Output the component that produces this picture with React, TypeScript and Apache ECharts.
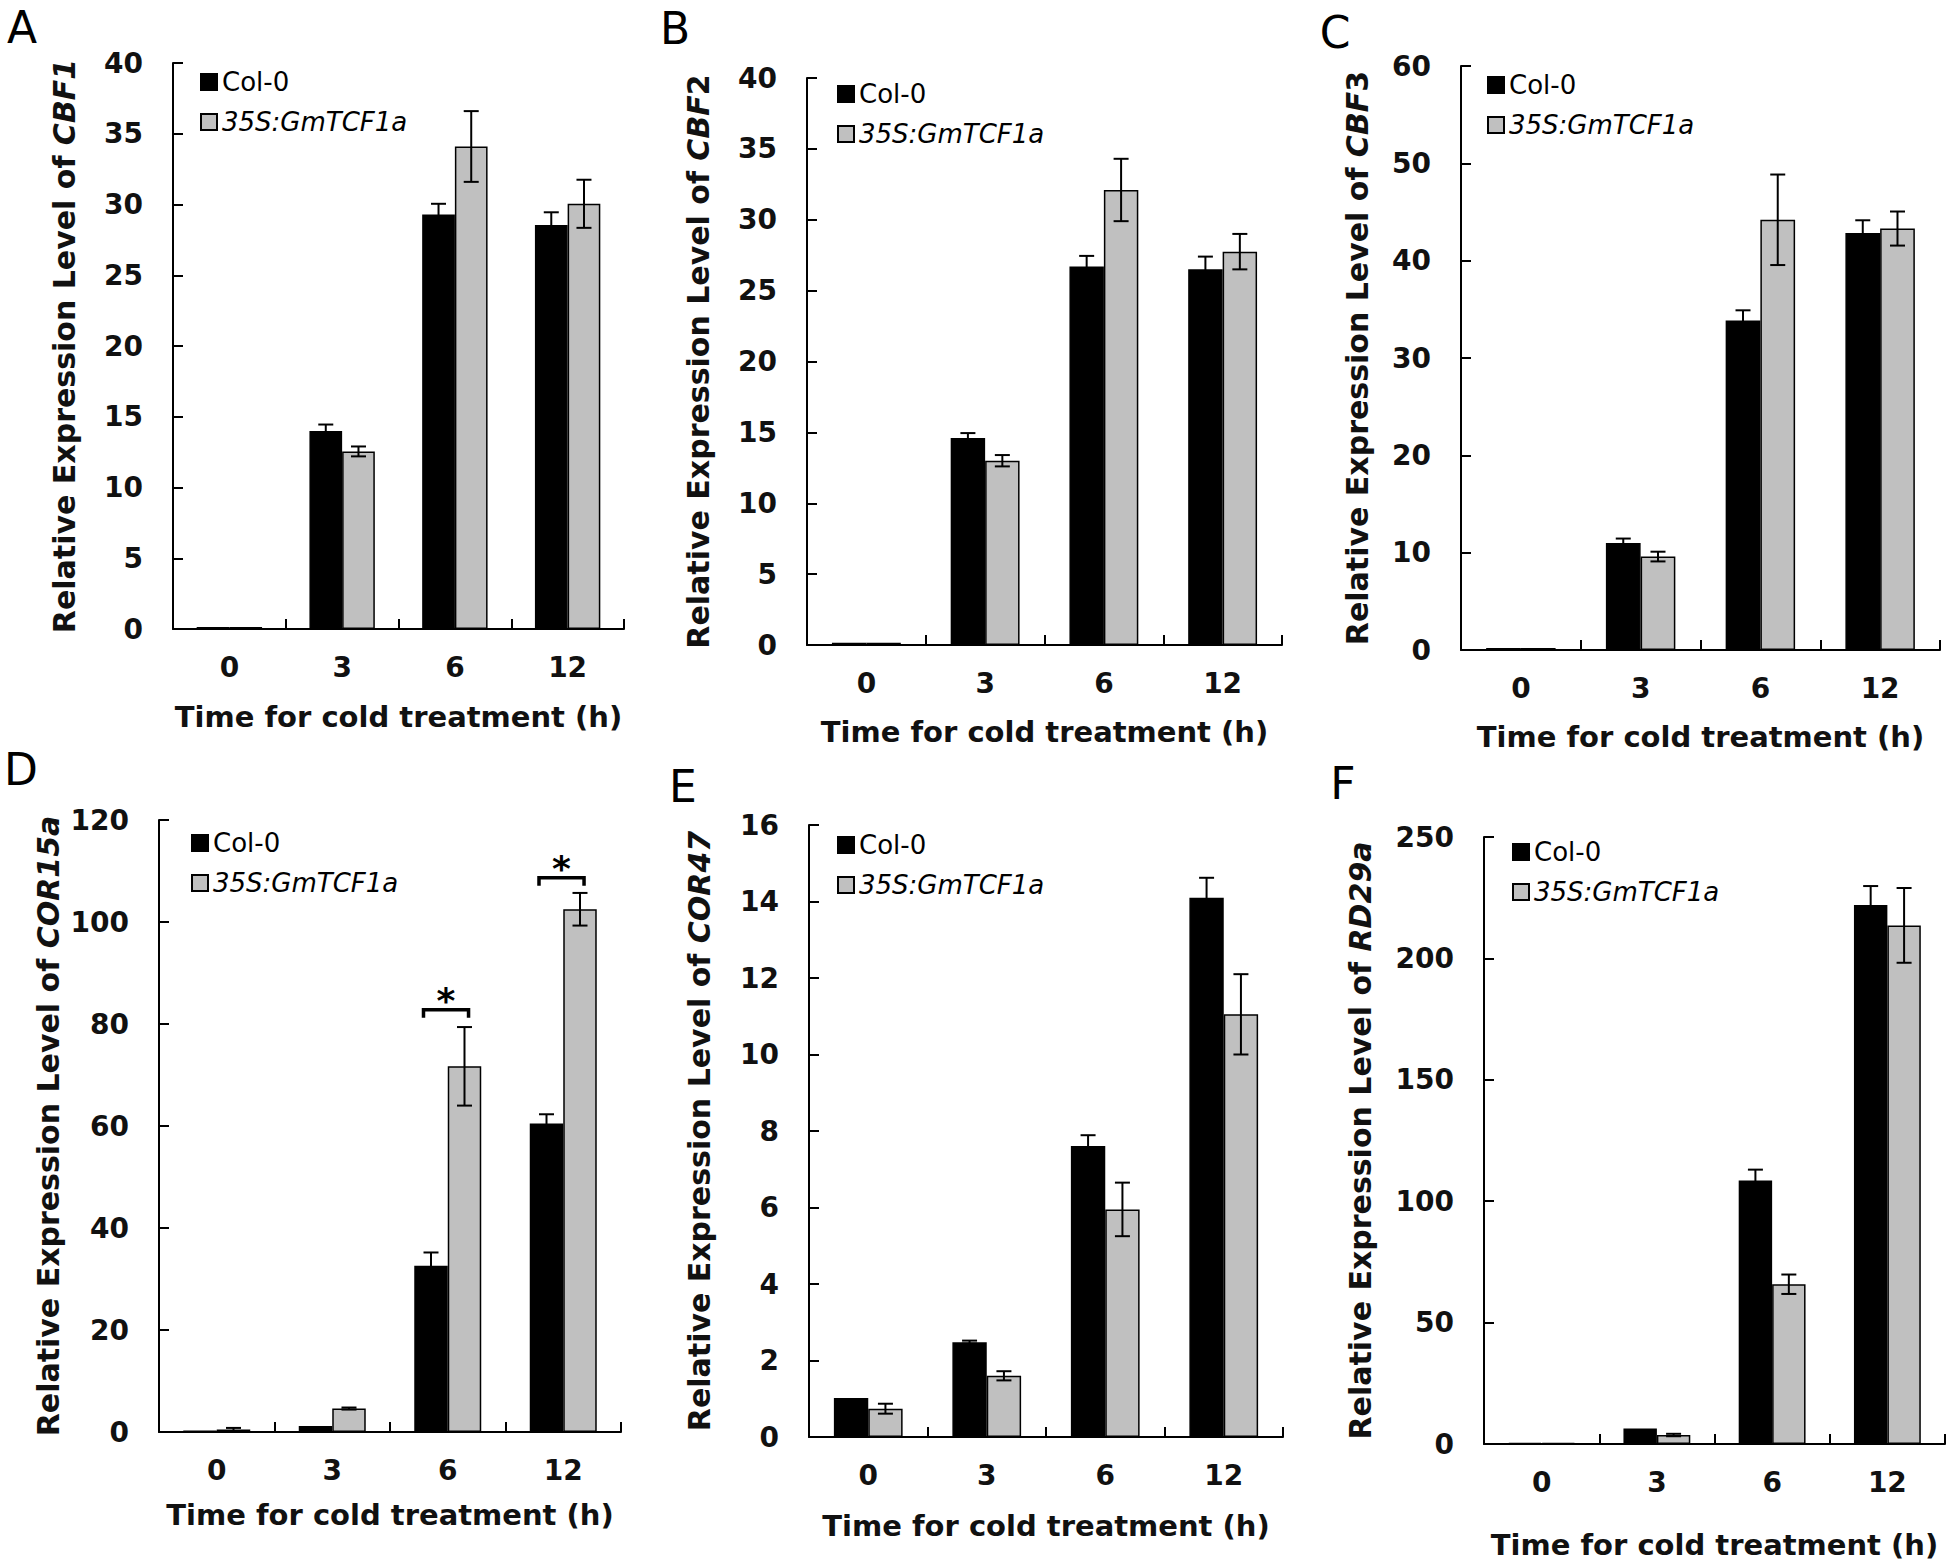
import React, { useEffect, useRef } from "react";
import * as echarts from "echarts";

// ---------------- data ----------------
const categories = ["0", "3", "6", "12"];
const legendNames = ["Col-0", "35S:GmTCF1a"];

// A: CBF1
const cbf1Col = [0.15, 14.0, 29.3, 28.55];
const cbf1ColErr = [0, 0.45, 0.75, 0.9];
const cbf1Tcf = [0.15, 12.55, 34.1, 30.05];
const cbf1TcfErr = [0, 0.35, 2.5, 1.7];

// B: CBF2
const cbf2Col = [0.15, 14.6, 26.7, 26.5];
const cbf2ColErr = [0, 0.35, 0.75, 0.9];
const cbf2Tcf = [0.15, 13.0, 32.1, 27.75];
const cbf2TcfErr = [0, 0.4, 2.2, 1.25];

// C: CBF3
const cbf3Col = [0.2, 11.0, 33.85, 42.85];
const cbf3ColErr = [0, 0.45, 1.05, 1.3];
const cbf3Tcf = [0.2, 9.6, 44.2, 43.3];
const cbf3TcfErr = [0, 0.5, 4.65, 1.75];

// D: COR15a
const cor15aCol = [0.3, 1.2, 32.6, 60.5];
const cor15aColErr = [0, 0, 2.6, 1.8];
const cor15aTcf = [0.5, 4.6, 71.7, 102.5];
const cor15aTcfErr = [0.3, 0.2, 7.7, 3.2];
const cor15aSigCats = [2, 3];
const cor15aSigLevel = [82.8, 108.7];

// E: COR47
const cor47Col = [1.02, 2.48, 7.61, 14.1];
const cor47ColErr = [0, 0.04, 0.28, 0.52];
const cor47Tcf = [0.74, 1.6, 5.95, 11.05];
const cor47TcfErr = [0.13, 0.12, 0.7, 1.05];

// F: RD29a
const rd29aCol = [0.5, 6.4, 108.5, 222];
const rd29aColErr = [0, 0, 4.5, 7.8];
const rd29aTcf = [0.5, 3.7, 65.8, 213.6];
const rd29aTcfErr = [0, 0.5, 4, 15.4];

// ---------------- panels (data + layout) ----------------
const FONT = "'DejaVu Sans', sans-serif";
const INK = "#000";

const panels = [
  { letter: "A", gene: "{i|CBF1}", col: cbf1Col, colErr: cbf1ColErr, tcf: cbf1Tcf, tcfErr: cbf1TcfErr, max: 40, interval: 5,
    left: 173, top: 63, width: 451, height: 566, yNameGap: 94, xNameGap: 73, legendLeft: 200, legendTop: 67, letterX: 22, letterY: 27 },
  { letter: "B", gene: "{i|CBF}2", col: cbf2Col, colErr: cbf2ColErr, tcf: cbf2Tcf, tcfErr: cbf2TcfErr, max: 40, interval: 5,
    left: 807, top: 78, width: 475, height: 567, yNameGap: 94, xNameGap: 72, legendLeft: 837, legendTop: 79, letterX: 675, letterY: 28 },
  { letter: "C", gene: "{i|CBF}3", col: cbf3Col, colErr: cbf3ColErr, tcf: cbf3Tcf, tcfErr: cbf3TcfErr, max: 60, interval: 10,
    left: 1461, top: 66, width: 479, height: 584, yNameGap: 89, xNameGap: 72, legendLeft: 1487, legendTop: 70, letterX: 1335, letterY: 32 },
  { letter: "D", gene: "{i|COR15a}", col: cor15aCol, colErr: cor15aColErr, tcf: cor15aTcf, tcfErr: cor15aTcfErr, max: 120, interval: 20,
    left: 159, top: 820, width: 462, height: 612, yNameGap: 96, xNameGap: 68, legendLeft: 191, legendTop: 828, letterX: 21, letterY: 769 },
  { letter: "E", gene: "{i|COR47}", col: cor47Col, colErr: cor47ColErr, tcf: cor47Tcf, tcfErr: cor47TcfErr, max: 16, interval: 2,
    left: 809, top: 825, width: 474, height: 612, yNameGap: 95, xNameGap: 74, legendLeft: 837, legendTop: 830, letterX: 683, letterY: 786 },
  { letter: "F", gene: "{i|RD29a}", col: rd29aCol, colErr: rd29aColErr, tcf: rd29aTcf, tcfErr: rd29aTcfErr, max: 250, interval: 50,
    left: 1484, top: 837, width: 461, height: 607, yNameGap: 109, xNameGap: 86, legendLeft: 1512, legendTop: 837, letterX: 1343, letterY: 783 },
];

const BAR_HALF = 0.145; // half of bar width as fraction of category band

function errorRender(params: any, api: any) {
  const cat = api.value(0);
  const lo = api.value(1);
  const hi = api.value(2);
  const side = api.value(3);
  const band = api.size([1, 0])[0];
  const cx = api.coord([cat, 0])[0] + side * BAR_HALF * band;
  const yLo = api.coord([cat, lo])[1];
  const yHi = api.coord([cat, hi])[1];
  const hw = 7.5;
  const st = { stroke: INK, lineWidth: 2 };
  return {
    type: "group",
    children: [
      { type: "line", shape: { x1: cx, y1: yLo, x2: cx, y2: yHi }, style: st },
      { type: "line", shape: { x1: cx - hw, y1: yHi, x2: cx + hw, y2: yHi }, style: st },
      { type: "line", shape: { x1: cx - hw, y1: yLo, x2: cx + hw, y2: yLo }, style: st },
    ],
  };
}

function sigRender(params: any, api: any) {
  const cat = api.value(0);
  const lvl = api.value(1);
  const band = api.size([1, 0])[0];
  const cx = api.coord([cat, 0])[0];
  const y = api.coord([cat, lvl])[1];
  const x1 = cx - 0.21 * band;
  const x2 = cx + 0.18 * band;
  return {
    type: "group",
    children: [
      {
        type: "polyline",
        shape: { points: [[x1, y + 8], [x1, y], [x2, y], [x2, y + 8]] },
        style: { stroke: INK, lineWidth: 3.5, fill: "none" },
      },
      {
        type: "text",
        x: (x1 + x2) / 2,
        y: y - 9,
        style: {
          text: "*",
          fill: INK,
          font: `bold 36px ${FONT}`,
          textAlign: "center",
          textVerticalAlign: "middle",
        },
      },
    ],
  };
}

function buildOption() {
  const grid = panels.map((p) => ({ left: p.left, top: p.top, width: p.width, height: p.height, containLabel: false }));
  const axisLine = { show: true, lineStyle: { color: INK, width: 2 } };
  const axisTick = { show: true, inside: true, length: 10, lineStyle: { color: INK, width: 2 } };
  const labelStyle = { fontFamily: FONT, fontWeight: "bold", fontSize: 28, color: "#111" };
  const nameStyle = { fontFamily: FONT, fontWeight: "bold", fontSize: 29, color: "#111" };

  const xAxis = panels.map((p, i) => ({
    type: "category",
    gridIndex: i,
    data: categories,
    axisLine,
    axisTick,
    axisLabel: { ...labelStyle, margin: 24 },
    name: "Time for cold treatment (h)",
    nameLocation: "middle",
    nameGap: p.xNameGap,
    nameTextStyle: nameStyle,
  }));

  const yAxis = panels.map((p, i) => ({
    type: "value",
    gridIndex: i,
    min: 0,
    max: p.max,
    interval: p.interval,
    axisLine,
    axisTick,
    splitLine: { show: false },
    axisLabel: { ...labelStyle, margin: 30 },
    name: "Relative Expression Level of " + p.gene,
    nameLocation: "middle",
    nameRotate: 90,
    nameGap: p.yNameGap,
    nameTextStyle: {
      ...nameStyle,
      fontSize: 30,
      rich: { i: { fontFamily: FONT, fontWeight: "bold", fontStyle: "italic", fontSize: 30, color: "#111" } },
    },
  }));

  const series: any[] = [];
  panels.forEach((p, i) => {
    series.push({
      type: "bar",
      name: legendNames[0],
      xAxisIndex: i,
      yAxisIndex: i,
      data: p.col,
      barWidth: "29%",
      barGap: "0%",
      itemStyle: { color: "#000", borderColor: INK, borderWidth: 1.5 },
      z: 2,
    });
    series.push({
      type: "bar",
      name: legendNames[1],
      xAxisIndex: i,
      yAxisIndex: i,
      data: p.tcf,
      barWidth: "29%",
      barGap: "0%",
      itemStyle: { color: "#c0c0c0", borderColor: INK, borderWidth: 1.5 },
      z: 2,
    });
    const errData: any[] = [];
    p.col.forEach((v, k) => {
      if (p.colErr[k] > 0) errData.push([k, v - p.colErr[k], v + p.colErr[k], -1]);
    });
    p.tcf.forEach((v, k) => {
      if (p.tcfErr[k] > 0) errData.push([k, v - p.tcfErr[k], v + p.tcfErr[k], 1]);
    });
    series.push({
      type: "custom",
      xAxisIndex: i,
      yAxisIndex: i,
      renderItem: errorRender,
      data: errData,
      z: 5,
      silent: true,
    });
  });
  series.push({
    type: "custom",
    xAxisIndex: 3,
    yAxisIndex: 3,
    renderItem: sigRender,
    data: cor15aSigCats.map((c, k) => [c, cor15aSigLevel[k]]),
    z: 6,
    silent: true,
  });

  const legend = panels.map((p) => ({
    left: p.legendLeft,
    top: p.legendTop,
    orient: "vertical",
    padding: 0,
    icon: "rect",
    itemWidth: 16,
    itemHeight: 16,
    itemGap: 10,
    selectedMode: false,
    data: legendNames,
    formatter: (n: string) => (n === legendNames[0] ? n : `{i|${n}}`),
    textStyle: {
      fontFamily: FONT,
      fontSize: 26,
      color: INK,
      lineHeight: 30,
      rich: { i: { fontFamily: FONT, fontSize: 26, fontStyle: "italic", color: INK, lineHeight: 30 } },
    },
  }));

  const graphic = panels.map((p) => ({
    type: "text",
    x: p.letterX,
    y: p.letterY,
    style: {
      text: p.letter,
      fill: INK,
      font: `44px ${FONT}`,
      textAlign: "center",
      textVerticalAlign: "middle",
    },
  }));

  return {
    animation: false,
    backgroundColor: "#fff",
    grid,
    xAxis,
    yAxis,
    series,
    legend,
    graphic,
  };
}

export default function App() {
  const ref = useRef<HTMLDivElement>(null);
  useEffect(() => {
    if (!ref.current) return;
    const chart = echarts.init(ref.current, undefined, { renderer: "svg" });
    chart.setOption(buildOption() as any);
    return () => chart.dispose();
  }, []);
  return (
    <div
      ref={ref}
      style={{ position: "fixed", left: 0, top: 0, width: 1946, height: 1564, background: "#fff" }}
    />
  );
}
